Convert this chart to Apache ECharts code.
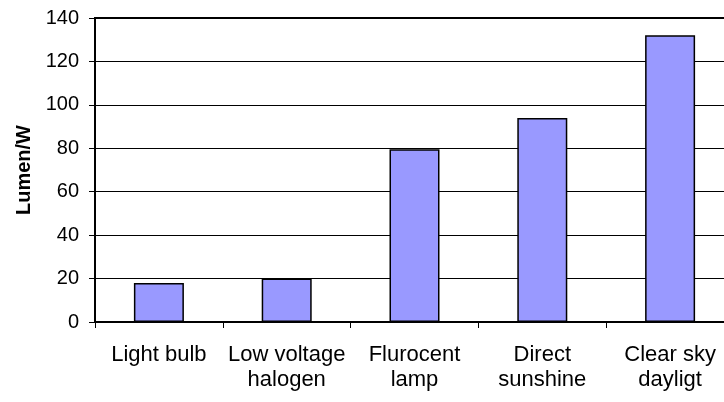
<!DOCTYPE html>
<html>
<head>
<meta charset="utf-8">
<script src="https://cdn.jsdelivr.net/npm/echarts@6/dist/echarts.min.js"></script>
<style>html,body{margin:0;padding:0;background:#fff;}#c{width:724px;height:402px;}</style>
</head>
<body>
<div id="c"></div>
<script>
var categories = ["Light bulb", "Low voltage\nhalogen", "Flurocent\nlamp", "Direct\nsunshine", "Clear sky\ndayligt"];
var values = [18, 20, 79.5, 94, 132];
var yTicks = { min: 0, max: 140, interval: 20 };
var yName = "Lumen/W";

var chart = echarts.init(document.getElementById('c'), null, { renderer: 'canvas' });
chart.setOption({
  animation: false,
  backgroundColor: '#ffffff',
  textStyle: { fontFamily: 'Liberation Sans, Arial, sans-serif' },
  grid: { left: 95, top: 18, width: 639, height: 304, outerBoundsMode: 'none', containLabel: false, show: true, borderColor: '#000', borderWidth: 2, backgroundColor: 'transparent' },
  xAxis: {
    type: 'category',
    data: categories,
    axisLine: { show: true, lineStyle: { color: '#000', width: 2 } },
    axisTick: { show: true, alignWithLabel: false, length: 6, lineStyle: { color: '#000', width: 1 } },
    axisLabel: { interval: 0, color: '#000', fontSize: 22, lineHeight: 25, margin: 20, fontFamily: 'Liberation Sans, Arial, sans-serif' },
    splitLine: { show: false }
  },
  yAxis: {
    type: 'value',
    min: yTicks.min, max: yTicks.max, interval: yTicks.interval,
    name: yName,
    nameLocation: 'middle',
    nameGap: 60,
    nameTextStyle: { color: '#000', fontSize: 20, fontWeight: 'bold', fontFamily: 'Liberation Sans, Arial, sans-serif' },
    axisLine: { show: true, lineStyle: { color: '#000', width: 2 } },
    axisTick: { show: true, length: 6, lineStyle: { color: '#000', width: 1 } },
    axisLabel: { color: '#000', fontSize: 20, margin: 16, fontFamily: 'Liberation Sans, Arial, sans-serif' },
    splitLine: { show: true, lineStyle: { color: '#000', width: 1 } }
  },
  series: [{
    type: 'bar',
    data: values,
    barWidth: 50,
    itemStyle: { color: '#9999FF', borderColor: '#000', borderWidth: 1.5 }
  }]
});
</script>
</body>
</html>
